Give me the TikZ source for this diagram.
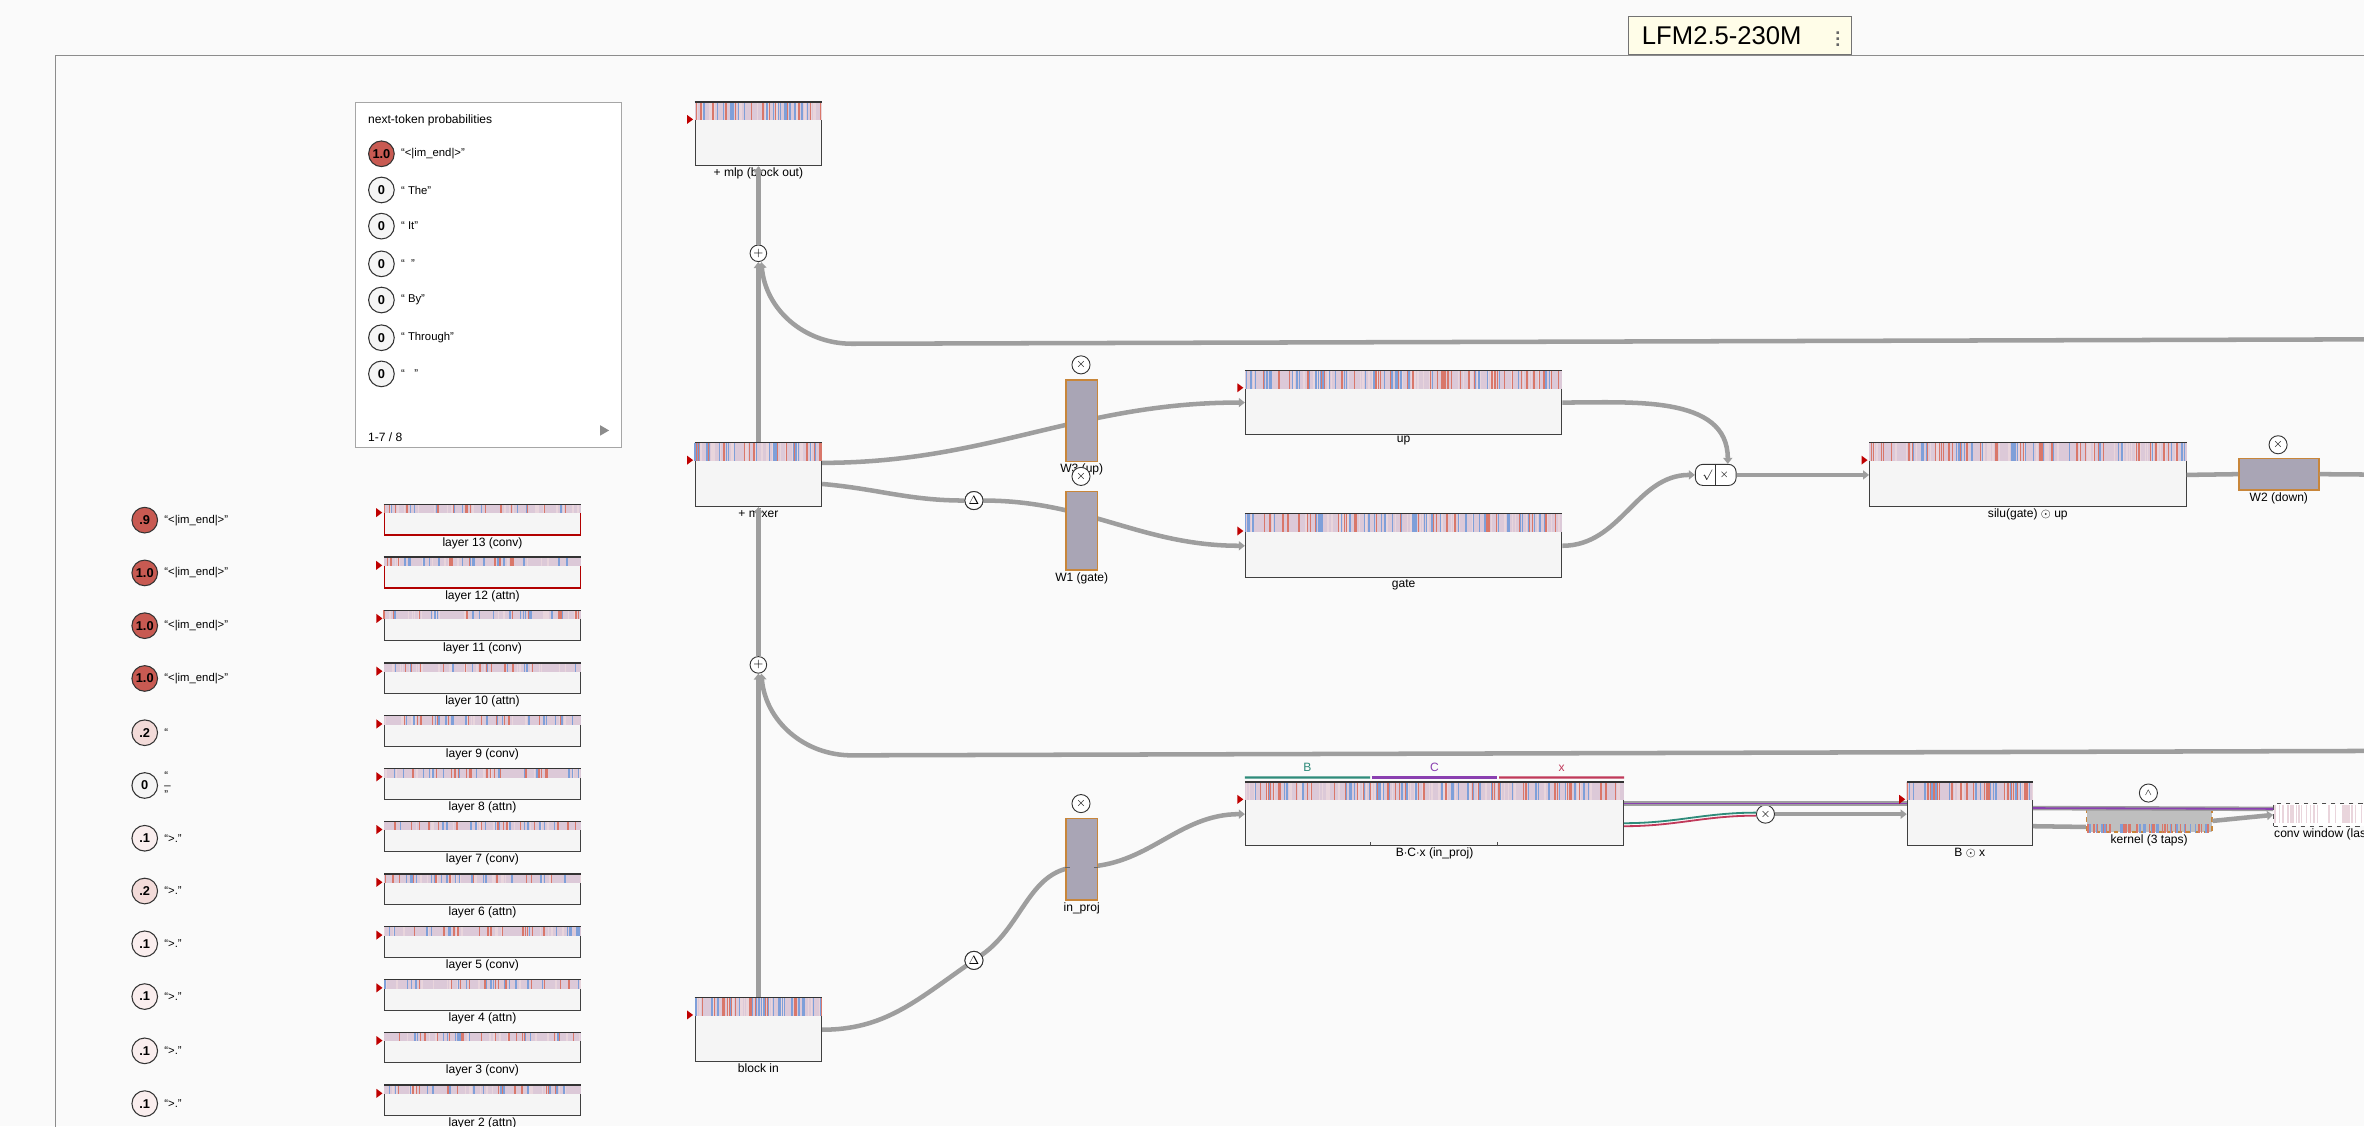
\documentclass[tikz,border=0pt]{standalone}
\usepackage{fontspec}
\setmainfont{Liberation Sans}
\usepackage{amssymb}
\usetikzlibrary{positioning,calc,arrows.meta}
\definecolor{bgc}{HTML}{FAFAFA}
\definecolor{flowc}{HTML}{9E9E9E}
\definecolor{heatred}{HTML}{D9776A}
\definecolor{heatblue}{HTML}{7E9FD9}
\definecolor{heatlight}{HTML}{E9D5DC}
\definecolor{heatbase}{HTML}{DCC9D8}
\definecolor{probred}{HTML}{C85A52}
\definecolor{wfill}{HTML}{A9A5B5}
\definecolor{wedge}{HTML}{C8863A}
\definecolor{bteal}{HTML}{2E8B7A}
\definecolor{cpurp}{HTML}{8A3FB0}
\definecolor{xcrim}{HTML}{C0395A}
\definecolor{titlec}{HTML}{FFFDE8}

% heat strip along the top of a box: node, strip height, number of lines
\newcommand\heatstrip[3]{%
  \fill[heatbase] (#1.north west) rectangle ([yshift=-#2]#1.north east);
  \foreach \k in {1,...,#3}{%
    \pgfmathsetmacro\t{rnd}\pgfmathtruncatemacro\c{3*rnd}%
    \ifcase\c \def\hc{heatred}\or\def\hc{heatblue}\else\def\hc{heatlight}\fi
    \draw[\hc, line width=0.9pt] ($(#1.north west)!\t!(#1.north east)$) -- ++(0pt,-#2);}
  \draw[black!80, line width=0.8pt] (#1.north west) -- (#1.north east);
  \fill[red!75!black] ([xshift=-1pt,yshift=-#2+0.5pt]#1.north west) -- ++(-4pt,3pt) -- ++(0pt,-6pt) -- cycle;
}

\begin{document}
\begin{tikzpicture}[x=1pt, y=-1pt,
    blk/.style={rectangle, draw=black!75, fill=black!4, line width=0.6pt, inner sep=0},
    redblk/.style={blk, draw=red!70!black, line width=1pt},
    wbox/.style={rectangle, draw=wedge, fill=wfill, line width=1pt, inner sep=0},
    op/.style={circle, draw=black!80, fill=white, inner sep=0, minimum size=12pt, line width=0.6pt, font=\fontsize{8}{8}\selectfont},
    lbl/.style={font=\fontsize{8}{9}\selectfont, inner sep=1pt},
    flow/.style={draw=flowc, line width=3pt},
    arr/.style={flow, -{Triangle[length=4pt,width=6pt]}},
    prob/.style={circle, draw=black!80, line width=0.7pt, inner sep=0, minimum size=17pt, font=\fontsize{8.5}{9}\selectfont\bfseries},
    tok/.style={font=\fontsize{7.5}{8}\selectfont, anchor=west, inner sep=0}
]
\pgfmathsetseed{7}
\fill[bgc] (0,0) rectangle (1568,747);
\useasboundingbox (0,0) rectangle (1568,747);
\draw[black!45, line width=0.8pt] (1600,37) -- (37,37) -- (37,760);

% title
\node[draw=black!55, fill=titlec, line width=1pt, minimum width=148pt, minimum height=25pt] (title) at (1154,23.5) {};
\node[font=\fontsize{17}{17}\selectfont, inner sep=0] (tname) at (1142,23.5) {LFM2.5-230M};
\node[font=\fontsize{12}{12}\selectfont\bfseries, text=black!60, inner sep=0] (dots) at (1219,23) {$\vdots$};

% next-token panel
\node[draw=black!35, fill=white, line width=0.6pt, minimum width=176pt, minimum height=229pt] (panel) at (324,182.5) {};
\node[tok, font=\fontsize{8}{9}\selectfont] (ptitle) at (244,80) {next-token probabilities};
\foreach \v/\f/\s/\y [count=\i] in {1.0/probred/“<|im\_end|>”/102, 0/black!4/“ The”/126, 0/black!4/“ It”/150,
    0/black!4/“\ \ ”/175, 0/black!4/“ By”/199, 0/black!4/“ Through”/224, 0/black!4/“\ \ \ ”/248}{
  \node[prob, fill=\f] (pp\i) at (253,\y) {\v};
  \node[tok, right=4pt of pp\i] (pt\i) {\s};
}
\node[tok, font=\fontsize{8}{9}\selectfont] (pcount) at (244,290) {1-7 / 8};
\fill[black!45] (398,282) -- (404,285.5) -- (398,289) -- cycle;

% per-layer predictions
\foreach \v/\f/\s/\y [count=\i] in {.9/probred/“<|im\_end|>”/345, 1.0/probred/“<|im\_end|>”/380,
    1.0/probred/“<|im\_end|>”/415, 1.0/probred/“<|im\_end|>”/450, .2/probred!22/“/486,
    0/black!4/{\shortstack[l]{“\\\_\\”}}/521, .1/probred!10/“>.”/556, .2/probred!22/“>.”/591,
    .1/probred!10/“>.”/626, .1/probred!10/“>.”/661, .1/probred!10/“>.”/697, .1/probred!10/“>.”/732}{
  \node[prob, fill=\f] (lp\i) at (96,\y) {\v};
  \node[tok, right=4pt of lp\i] (lt\i) {\s};
}

% layer boxes
\foreach \n/\t/\y in {13/conv/345,12/attn/380,11/conv/415,10/attn/450,9/conv/485,8/attn/520,
    7/conv/555,6/attn/590,5/conv/625,4/attn/660,3/conv/695,2/attn/730}{
  \ifnum\n>11 \def\st{redblk}\else\def\st{blk}\fi
  \node[\st, minimum width=130pt, minimum height=20pt, label={[lbl]below:layer \n\ (\t)}] (L\n) at (320,\y) {};
  \heatstrip{L\n}{6pt}{50}
}

% residual stream
\node[blk, minimum width=84pt, minimum height=42pt, label={[lbl]below:+ mlp (block out)}] (mlp) at (503,89) {};
\node[blk, minimum width=84pt, minimum height=42pt, label={[lbl]below:+ mixer}] (mix) at (503,315) {};
\node[blk, minimum width=84pt, minimum height=42pt, label={[lbl]below:block in}] (bin) at (503,683) {};
\node[op, minimum size=11pt] (p1) at (503,168) {$+$};
\node[op, minimum size=11pt] (p2) at (503,441) {$+$};
\coordinate (rt1) at (1600,225);
\coordinate (rt2) at (1600,498);

\draw[arr] (bin.north) -- (p2.south);
\draw[arr] (p2.north) -- (mix.south);
\draw[arr] (mix.north) -- (p1.south);
\draw[arr] (p1.north) -- (mlp.south);
\draw[arr] (rt1) -- (565,228) to[out=180,in=-85] ([xshift=2pt]p1.south);
\draw[arr] (rt2) -- (565,501) to[out=180,in=-85] ([xshift=2pt]p2.south);

% mlp branch
\node[op] (m3) at (717,242) {$\times$};
\node[op] (d1) at (646,332) {$\Delta$};
\node[blk, minimum width=210pt, minimum height=42pt, label={[lbl]below:up}] (up) at (931,267) {};
\node[blk, minimum width=210pt, minimum height=42pt, label={[lbl]below:gate}] (gate) at (931,362) {};
\node[draw=black!80, fill=white, rounded corners=5pt, minimum width=27pt, minimum height=14pt,
  inner sep=0, line width=0.6pt, font=\fontsize{7}{7}\selectfont] (glu) at (1138,315) {$\surd$\hspace{5pt}$\times$};
\draw[black!80, line width=0.6pt] (glu.north) -- (glu.south);
\node[blk, minimum width=210pt, minimum height=42pt, label={[lbl]below:silu(gate) $\odot$ up}] (silu) at (1345,315) {};
\node[wbox, minimum width=53pt, minimum height=21pt, label={[lbl]below:W2 (down)}] (w2) at (1511.5,314.5) {};
\node[op] (m2) at (1511,295) {$\times$};
\coordinate (rt3) at (1600,315);

\draw[arr] ([yshift=8pt]mix.east) to[out=0,in=180] (up.west);
\draw[arr] ([yshift=-6pt]mix.east) to[out=-5,in=180] (d1) to[out=0,in=180] (gate.west);
\node[wbox, minimum width=21pt, minimum height=54pt, label={[lbl]below:W3 (up)}] (w3) at (717.5,279) {};
\node[wbox, minimum width=21pt, minimum height=52pt, label={[lbl]below:W1 (gate)}] (w1) at (717.5,352) {};
\node[op] (m1) at (717,316) {$\times$};
\node[op] at (d1) {$\Delta$};
\draw[arr] (up.east) to[out=0,in=90] ([xshift=8pt]glu.north);
\draw[arr] (gate.east) to[out=0,in=180] (glu.west);
\draw[arr] (glu.east) -- (silu.west);
\draw[flow] (silu.east) -- (w2.west);
\draw[flow] (w2.east) -- (rt3);

% conv branch
\node[op] (mi) at (717,533) {$\times$};
\node[op] (d2) at (646,637) {$\Delta$};
\node[blk, minimum width=251pt, minimum height=42pt, label={[lbl]below:B$\cdot$C$\cdot$x (in\_proj)}] (bcx) at (951.5,540) {};
\node[op] (mx) at (1171,540) {$\times$};
\node[blk, minimum width=83pt, minimum height=42pt, label={[lbl]below:B $\odot$ x}] (bx) at (1306.5,540) {};
\node[draw=wedge, dashed, fill=black!25, line width=1pt, minimum width=83pt, minimum height=15pt, inner sep=0,
  label={[lbl]below:kernel (3 taps)}] (ker) at (1425.5,544.5) {};
\node[op, font=\fontsize{6}{6}\selectfont] (cv) at (1425,526) {$\wedge$};
\node[draw=black!70, dashed, fill=white, line width=0.6pt, minimum width=64pt, minimum height=15pt, inner sep=0,
  label={[lbl]below:conv window (last}] (cw) at (1540,540.5) {};

\draw[arr] (bin.east) to[out=0,in=215] (d2) to[out=35,in=180] (717,575) to[out=0,in=180] (bcx.west);
\node[op] at (d2) {$\Delta$};
\node[wbox, minimum width=21pt, minimum height=54pt, label={[lbl]below:in\_proj}] (ip) at (717.5,570) {};
\draw[black!60, line width=0.5pt] ([yshift=-5pt]ip.west) -- ++(3pt,0pt) ([yshift=-5pt]ip.east) -- ++(-3pt,0pt);

% B / C / x segments
\foreach \a/\b/\cl/\s [count=\i] in {0/0.33/bteal/B, 0.335/0.665/cpurp/C, 0.67/1/xcrim/x}{
  \draw[\cl, line width=1.5pt] ([yshift=3pt]$(bcx.north west)!\a!(bcx.north east)$) -- ([yshift=3pt]$(bcx.north west)!\b!(bcx.north east)$)
    node[midway, above=0pt, text=\cl, font=\fontsize{8}{9}\selectfont] (seg\i) {\s};
}
\draw[black!70, line width=0.5pt] ($(bcx.south west)!0.33!(bcx.south east)$) -- ++(0pt,3pt)
  ($(bcx.south west)!0.665!(bcx.south east)$) -- ++(0pt,3pt);

\draw[flow] ([yshift=7pt]bcx.east) -- ([yshift=7pt]bx.west);
\draw[cpurp, line width=1.2pt] ([yshift=7pt]bcx.east) -- ([yshift=7pt]bx.west);
\draw[bteal, line width=1.2pt] ([yshift=-6pt]bcx.east) to[out=0,in=180] ([yshift=1pt]mx.west);
\draw[xcrim, line width=1.2pt] ([yshift=-8pt]bcx.east) to[out=0,in=180] ([yshift=-1pt]mx.west);
\draw[arr] (mx.east) -- (bx.west);
\draw[flow] ([yshift=4pt]bx.east) -- ([yshift=4pt]cw.west);
\draw[cpurp, line width=1.2pt] ([yshift=4pt]bx.east) -- ([yshift=4pt]cw.west);
\draw[flow] ([yshift=-8pt]bx.east) -- ([yshift=-4pt]ker.west);
\draw[arr] (ker.east) -- (cw.west);

% heat strips on the big boxes
\heatstrip{mlp}{12pt}{70}
\heatstrip{mix}{12pt}{70}
\heatstrip{bin}{12pt}{70}
\heatstrip{up}{12pt}{140}
\heatstrip{gate}{12pt}{140}
\heatstrip{silu}{12pt}{140}
\heatstrip{bcx}{12pt}{160}
\heatstrip{bx}{12pt}{60}
\foreach \k in {1,...,60}{\pgfmathsetmacro\t{rnd}\pgfmathtruncatemacro\c{2*rnd}
  \ifcase\c \def\hc{heatred}\else\def\hc{heatblue}\fi
  \draw[\hc, line width=0.9pt] ($(ker.south west)!\t!(ker.south east)$) -- ++(0pt,6pt);}
\foreach \k in {1,...,40}{\pgfmathsetmacro\t{rnd}
  \draw[heatlight, line width=0.8pt] ([yshift=-1pt]$(cw.north west)!\t!(cw.north east)$) -- ++(0pt,-12pt);}
\end{tikzpicture}
\end{document}
